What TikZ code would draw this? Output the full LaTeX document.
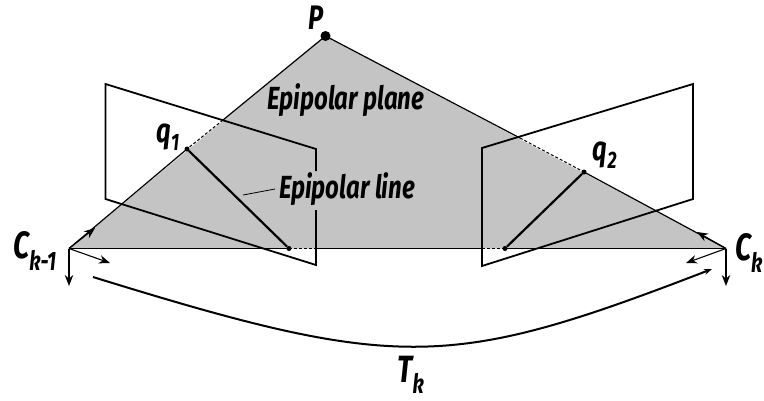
\documentclass[tikz,border=0pt]{standalone}
\usepackage{xcolor}
\usepackage{fontspec}
\usetikzlibrary{arrows.meta, positioning}
\newfontfamily\labelfont{Fira Sans}[FakeStretch=0.75]
\definecolor{planegray}{HTML}{C4C4C4}

\begin{document}
\begin{tikzpicture}[
    x=1pt, y=-1pt,
    lbl/.style={font=\labelfont\bfseries\itshape\fontsize{#1}{#1}\selectfont, inner sep=0pt},
    ray/.style={line width=1.2pt},
    raydash/.style={line width=1pt, dash pattern=on 3pt off 2pt},
    frame/.style={line width=1.8pt, line join=miter},
    epiline/.style={line width=2.2pt},
    axis/.style={line width=1.1pt, -{Stealth[length=11pt, width=8.5pt]}},
    pt/.style={circle, fill=black, inner sep=0pt, minimum size=#1},
]
    \useasboundingbox (0, 0) rectangle (764, 400);

    % epipolar plane
    \coordinate (ckm) at (69, 248.5);
    \coordinate (ck) at (726, 248.5);
    \coordinate (apex) at (325.5, 36);
    \fill[planegray] (ckm) -- (apex) -- (ck) -- cycle;

    % key points
    \node[pt=10pt] (p) at (apex) {};
    \node[pt=5pt] (q1) at (187, 149) {};
    \node[pt=5pt] (q2) at (584, 172) {};
    \node[pt=5pt] (e1) at (289, 248.5) {};
    \node[pt=5pt] (e2) at (505, 248.5) {};
    \coordinate (lcross) at (223, 120);
    \coordinate (rcross) at (520, 138);
    \coordinate (lbase) at (316, 248.5);
    \coordinate (rbase) at (482, 248.5);

    \draw[ray] (ckm) -- (q1.center);
    \draw[ray] (lcross) -- (p.center) -- (rcross);
    \draw[ray] (q2.center) -- (ck);
    \draw[ray] (ckm) -- (e1.center);
    \draw[ray] (lbase) -- (rbase);
    \draw[ray] (e2.center) -- (ck);
    \draw[raydash] (lcross) -- (q1.center);
    \draw[raydash] (rcross) -- (q2.center);
    \draw[raydash] (e1.center) -- (lbase);
    \draw[raydash] (rbase) -- (e2.center);

    % image planes
    \coordinate (la) at (105.5, 84);
    \coordinate (lb) at (316, 149);
    \coordinate (lc) at (316, 265);
    \coordinate (ld) at (105.5, 199);
    \coordinate (lgapa) at (316, 171);
    \coordinate (lgapb) at (316, 210);
    \draw[frame] (lgapa) -- (lb) -- (la) -- (ld) -- (lc) -- (lgapb);
    \draw[frame] (482, 148) -- (693, 84) -- (693, 199) -- (482, 266) -- cycle;

    \draw[epiline] (q1) -- (e1);
    \draw[epiline] (q2) -- (e2);

    % camera axes
    \coordinate (ax1) at (95, 228);
    \coordinate (ax2) at (110, 263);
    \coordinate (ax3) at (69, 286);
    \coordinate (bx1) at (697, 232);
    \coordinate (bx2) at (686, 263);
    \coordinate (bx3) at (726, 286);
    \draw[axis] (ckm) -- (ax1);
    \draw[axis] (ckm) -- (ax2);
    \draw[axis] (ckm) -- (ax3);
    \draw[axis] (ck) -- (bx1);
    \draw[axis] (ck) -- (bx2);
    \draw[axis] (ck) -- (bx3);

    % baseline transform
    \coordinate (ta) at (93, 277);
    \coordinate (tb) at (712, 269);
    \draw[line width=2pt, -{Stealth[length=8pt, width=6pt]}] (ta) .. controls (400, 372) and (450, 370) .. (tb);

    \node[lbl=34] (plabel) at (316, 18) {P};
    \node[lbl=32] (planelabel) at (346, 100) {Epipolar plane};
    \node[lbl=32, anchor=west] (linelabel) at (279, 189) {Epipolar line};
    \node[lbl=34] (q1label) at (168, 137) {q\textsubscript{1}};
    \node[lbl=34] (q2label) at (605, 155) {q\textsubscript{2}};
    \node[lbl=38] (cklabel) at (749, 253) {C\textsubscript{k}};
    \node[lbl=38] (ckmlabel) at (35, 251) {C\textsubscript{k-1}};
    \node[lbl=38] (tlabel) at (411, 375) {T\textsubscript{k}};

    \coordinate (leadtip) at (243, 195);
    \draw[line width=0.8pt] (linelabel.west) ++(-4, 0) -- (leadtip);
\end{tikzpicture}
\end{document}
